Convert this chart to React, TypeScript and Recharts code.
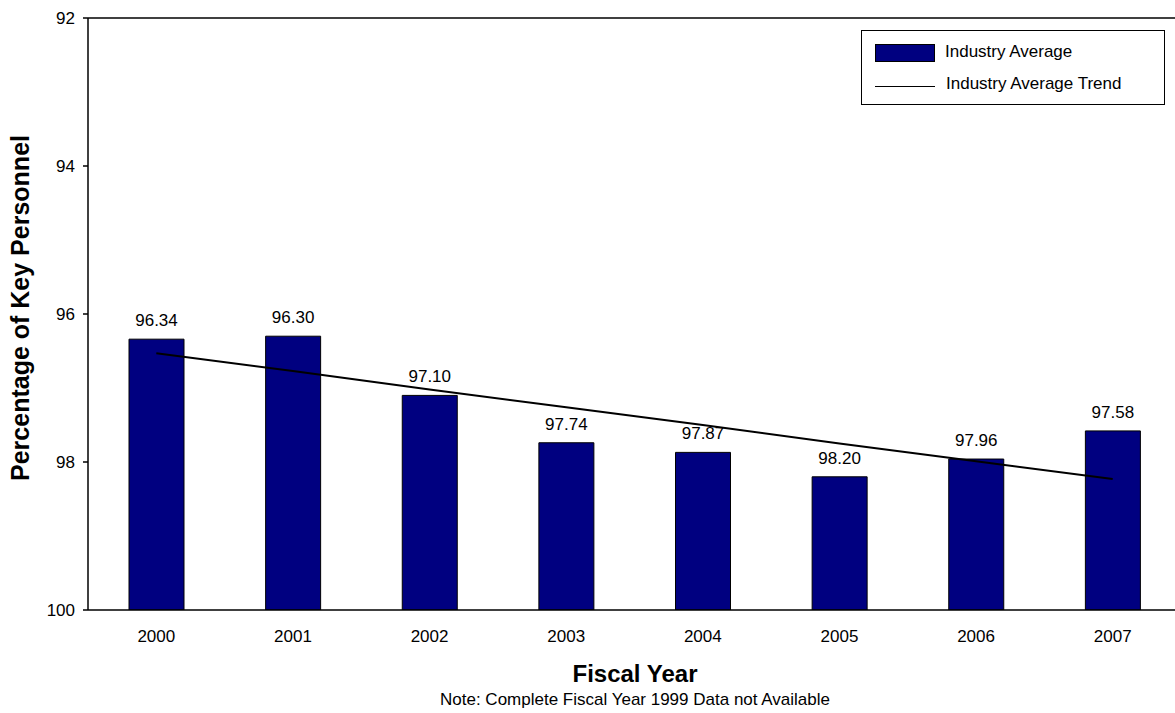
import React from 'react';
import { ComposedChart, Bar, Line, XAxis, YAxis, LabelList, ReferenceLine, Legend, Customized } from 'recharts';

const years = ['2000', '2001', '2002', '2003', '2004', '2005', '2006', '2007'];
const industryAverage = [96.34, 96.3, 97.1, 97.74, 97.87, 98.2, 97.96, 97.58];
const trendValues = [96.53, 96.77, 97.02, 97.26, 97.5, 97.75, 97.99, 98.23];
const yTicks = [92, 94, 96, 98, 100];
const axisBase = 100;

const rows = years.map((year, i) => ({
  year,
  value: industryAverage[i],
  range: [axisBase, industryAverage[i]],
  trend: trendValues[i],
}));

const FONT = '"Liberation Sans", Arial, Helvetica, sans-serif';

const LegendBox = () => (
  <div
    style={{
      position: 'relative',
      width: 302,
      height: 73,
      border: '1px solid #000',
      background: '#fff',
      fontFamily: FONT,
      fontSize: 17,
      color: '#000',
    }}
  >
    <div
      style={{
        position: 'absolute',
        left: 13,
        top: 13,
        width: 58,
        height: 16,
        background: '#000080',
        border: '1px solid #000',
      }}
    />
    <div style={{ position: 'absolute', left: 83, top: 11, lineHeight: '20px', whiteSpace: 'nowrap' }}>
      Industry Average
    </div>
    <div
      style={{
        position: 'absolute',
        left: 13,
        top: 55,
        width: 60,
        height: 0,
        borderTop: '1.5px solid #000',
      }}
    />
    <div style={{ position: 'absolute', left: 84, top: 43, lineHeight: '20px', whiteSpace: 'nowrap' }}>
      Industry Average Trend
    </div>
  </div>
);

const Titles = () => (
  <g fontFamily={FONT} fill="#000">
    <text
      transform="rotate(-90)"
      x={-308}
      y={29}
      textAnchor="middle"
      fontSize={25}
      fontWeight="bold"
    >
      Percentage of Key Personnel
    </text>
    <text x={635} y={682} textAnchor="middle" fontSize={24} fontWeight="bold">
      Fiscal Year
    </text>
    <text x={635} y={705} textAnchor="middle" fontSize={17}>
      Note: Complete Fiscal Year 1999 Data not Available
    </text>
  </g>
);

export default function App() {
  return (
    <div
      style={{
        position: 'fixed',
        left: 0,
        top: 0,
        width: 1175,
        height: 713,
        overflow: 'hidden',
        background: '#fff',
        fontFamily: FONT,
      }}
    >
      <ComposedChart
        width={1200}
        height={713}
        data={rows}
        margin={{ top: 18, right: 19, left: 0, bottom: 73 }}
      >
        <XAxis
          dataKey="year"
          height={30}
          tickLine={false}
          tickSize={0}
          tickMargin={20}
          axisLine={{ stroke: '#000', strokeWidth: 1.5 }}
          tick={{ fill: '#000', fontSize: 17, fontFamily: FONT }}
          interval={0}
        />
        <YAxis
          width={88}
          reversed
          domain={[92, 100]}
          ticks={yTicks}
          allowDataOverflow
          tickSize={5}
          tickMargin={8}
          tickLine={{ stroke: '#000', strokeWidth: 1.5 }}
          axisLine={{ stroke: '#000', strokeWidth: 1.5 }}
          tick={{ fill: '#000', fontSize: 17, fontFamily: FONT }}
        />
        <ReferenceLine y={92} stroke="#000" strokeWidth={1.5} />
        <Bar
          dataKey="range"
          name="Industry Average"
          fill="#000080"
          stroke="#000"
          strokeWidth={1}
          barSize={55}
          isAnimationActive={false}
        >
          <LabelList
            dataKey="value"
            position="top"
            offset={13}
            fill="#000"
            fontSize={17}
            fontFamily={FONT}
            formatter={(v: number) => Number(v).toFixed(2)}
          />
        </Bar>
        <Line
          dataKey="trend"
          name="Industry Average Trend"
          type="linear"
          stroke="#000"
          strokeWidth={2}
          dot={false}
          activeDot={false}
          isAnimationActive={false}
        />
        <Legend
          layout="vertical"
          align="center"
          verticalAlign="middle"
          wrapperStyle={{ left: 861, top: 30, width: 304, height: 75 }}
          content={() => <LegendBox />}
        />
        <Customized component={Titles} />
      </ComposedChart>
    </div>
  );
}
